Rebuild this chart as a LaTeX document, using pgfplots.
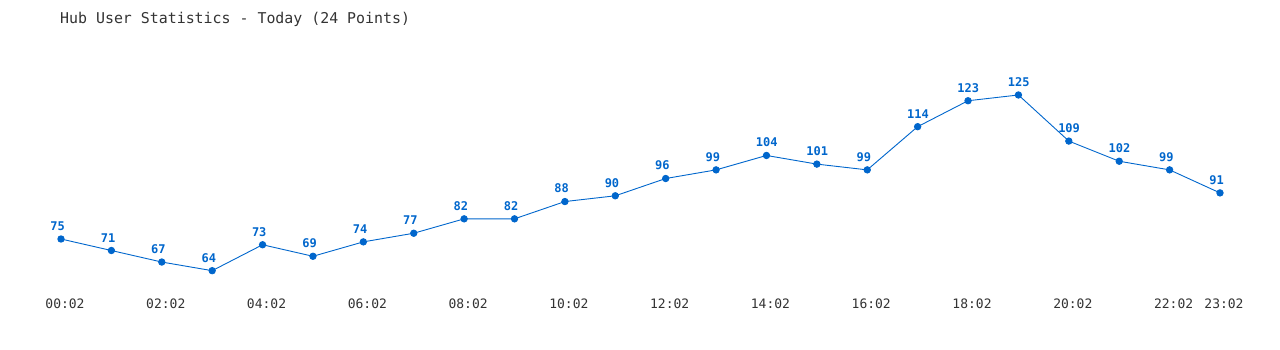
\documentclass[border=0pt]{standalone}
\usepackage{fontspec}
\usepackage{pgfplots}
\pgfplotsset{compat=1.18}
\newfontfamily\mono{DejaVu Sans Mono}
\definecolor{lineblue}{HTML}{0066CC}
\definecolor{txtgrey}{HTML}{333333}
\begin{document}
\begin{tikzpicture}[x=1pt,y=1pt]
\useasboundingbox (0,0) rectangle (1280,350);
\node[anchor=west, inner sep=0pt, text=txtgrey, font=\mono\fontsize{14.9}{14.9}\selectfont] at (60,331) {Hub User Statistics - Today (24 Points)};
\begin{axis}[
  at={(61pt,53.4pt)}, anchor=south west,
  scale only axis, width=1159pt, height=211.2pt,
  xmin=0, xmax=23, ymin=55, ymax=128.33,
  axis line style={draw=none}, tick style={draw=none},
  ytick=\empty,
  xtick={0,2,4,6,8,10,12,14,16,18,20,22,23},
  xticklabels={00:02,02:02,04:02,06:02,08:02,10:02,12:02,14:02,16:02,18:02,20:02,22:02,23:02},
  xticklabel style={font=\mono\fontsize{13}{13}\selectfont, text=txtgrey, inner sep=0pt, anchor=center, yshift=-7pt, xshift=4pt},
  clip=false,
  nodes near coords,
  every node near coord/.append style={font=\mono\bfseries\fontsize{12}{12}\selectfont, text=lineblue, anchor=south west, inner sep=0pt, yshift=8pt, xshift=-11pt, /pgf/number format/assume math mode=true},
]
\addplot[color=lineblue, line width=0.9pt, mark=*, mark size=3.2pt, mark options={fill=lineblue, draw=lineblue}] coordinates {
(0,75) (1,71) (2,67) (3,64) (4,73) (5,69) (6,74) (7,77) (8,82) (9,82) (10,88) (11,90)
(12,96) (13,99) (14,104) (15,101) (16,99) (17,114) (18,123) (19,125) (20,109) (21,102) (22,99) (23,91)
};
\end{axis}
\end{tikzpicture}
\end{document}
